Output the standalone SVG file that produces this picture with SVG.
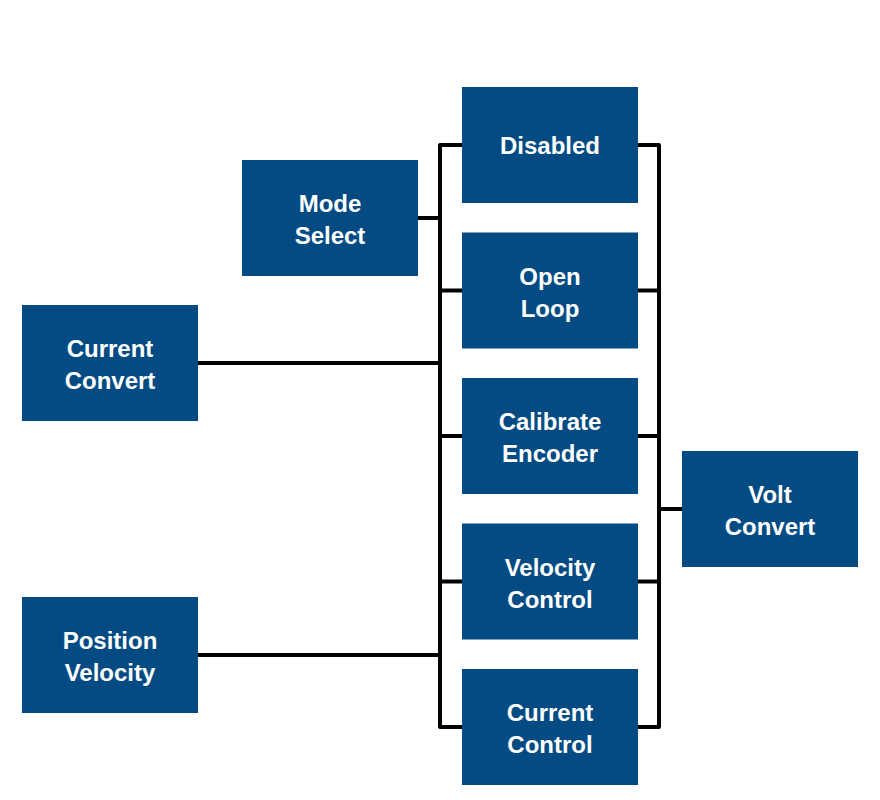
<svg xmlns="http://www.w3.org/2000/svg" width="880" height="800" viewBox="0 0 880 800">
<style>
.box{fill:#034b82}
.t{fill:#fff;font-family:"Liberation Sans",Arial,sans-serif;font-weight:bold;font-size:24px;text-anchor:middle}
.c{fill:none;stroke:#000;stroke-width:4;stroke-linejoin:round;stroke-linecap:butt}
</style>
<rect width="880" height="800" fill="#fff"/>
<g id="connectors">
<path class="c" d="M462,145 H440 V727 H462"/>
<path class="c" d="M440,290.5 H462 M440,436 H462 M440,581.5 H462"/>
<path class="c" d="M638,145 H659 V727 H638"/>
<path class="c" d="M638,290.5 H659 M638,436 H659 M638,581.5 H659"/>
<path class="c" d="M418,218 H440"/>
<path class="c" d="M198,363 H440"/>
<path class="c" d="M198,655 H440"/>
<path class="c" d="M659,509 H682"/>
</g>
<g id="mode-select"><rect class="box" x="242" y="160" width="176" height="116"/><text class="t" x="330" y="212">Mode</text><text class="t" x="330" y="244">Select</text></g>
<g id="current-convert"><rect class="box" x="22" y="305" width="176" height="116"/><text class="t" x="110" y="357">Current</text><text class="t" x="110" y="389">Convert</text></g>
<g id="position-velocity"><rect class="box" x="22" y="597" width="176" height="116"/><text class="t" x="110" y="649">Position</text><text class="t" x="110" y="681">Velocity</text></g>
<g id="disabled"><rect class="box" x="462" y="87" width="176" height="116"/><text class="t" x="550" y="154">Disabled</text></g>
<g id="open-loop"><rect class="box" x="462" y="232.5" width="176" height="116"/><text class="t" x="550" y="284.5">Open</text><text class="t" x="550" y="316.5">Loop</text></g>
<g id="calibrate-encoder"><rect class="box" x="462" y="378" width="176" height="116"/><text class="t" x="550" y="430">Calibrate</text><text class="t" x="550" y="462">Encoder</text></g>
<g id="velocity-control"><rect class="box" x="462" y="523.5" width="176" height="116"/><text class="t" x="550" y="575.5">Velocity</text><text class="t" x="550" y="607.5">Control</text></g>
<g id="current-control"><rect class="box" x="462" y="669" width="176" height="116"/><text class="t" x="550" y="721">Current</text><text class="t" x="550" y="753">Control</text></g>
<g id="volt-convert"><rect class="box" x="682" y="451" width="176" height="116"/><text class="t" x="770" y="503">Volt</text><text class="t" x="770" y="535">Convert</text></g>
</svg>
